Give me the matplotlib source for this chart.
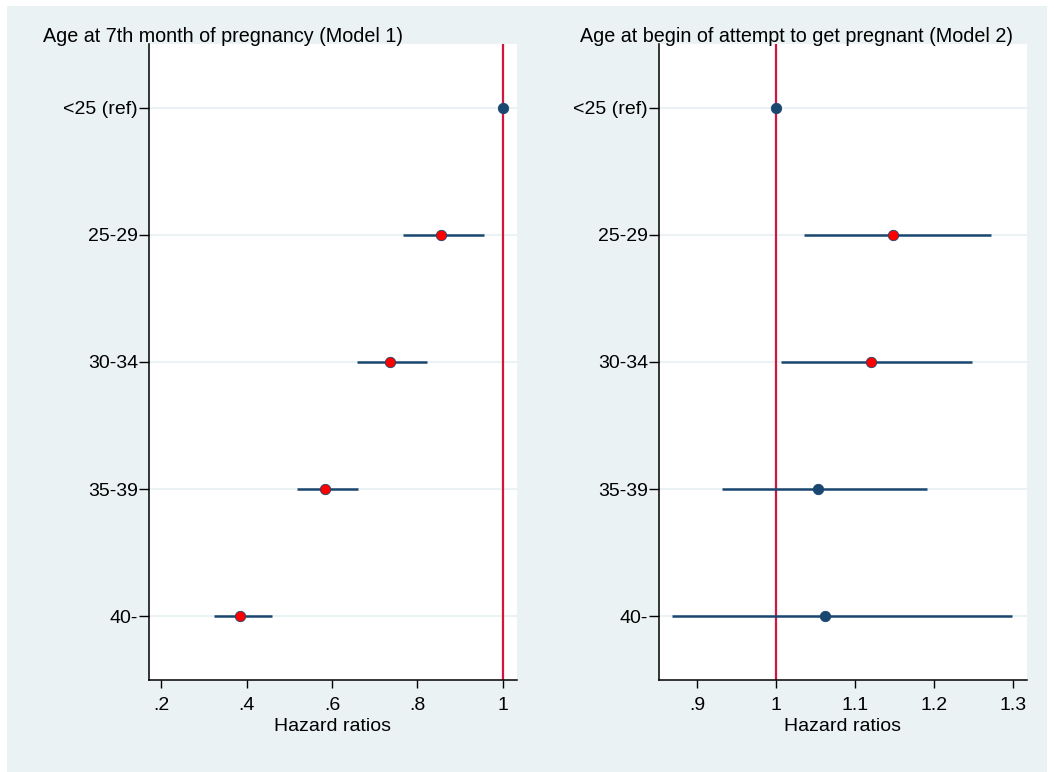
import matplotlib.pyplot as plt
from matplotlib.patches import Rectangle

plt.rcParams['font.family'] = ['Liberation Sans', 'DejaVu Sans']

# Age groups, top to bottom
groups = ["<25 (ref)", "25-29", "30-34", "35-39", "40-"]

# Model 1: age at 7th month of pregnancy
hr1 = [1.0, 0.856, 0.737, 0.584, 0.384]
lo1 = [1.0, 0.767, 0.659, 0.518, 0.324]
hi1 = [1.0, 0.956, 0.823, 0.662, 0.459]
sig1 = [False, True, True, True, True]

# Model 2: age at begin of attempt to get pregnant
hr2 = [1.0, 1.148, 1.120, 1.053, 1.062]
lo2 = [1.0, 1.035, 1.006, 0.932, 0.868]
hi2 = [1.0, 1.273, 1.248, 1.191, 1.299]
sig2 = [False, True, True, False, False]

ticks1 = [0.2, 0.4, 0.6, 0.8, 1.0]
ticklab1 = [".2", ".4", ".6", ".8", "1"]
ticks2 = [0.9, 1.0, 1.1, 1.2, 1.3]
ticklab2 = [".9", "1", "1.1", "1.2", "1.3"]

NAVY = "#1a476f"
RED = "#ff0000"
REFLINE = "#d0163e"
BG = "#eaf2f3"
FS = 14

W, H = 1054, 772
fig = plt.figure(figsize=(W / 100, H / 100), dpi=100)
fig.patches.append(Rectangle((7 / W, 0), (W - 14) / W, (H - 6) / H,
                             transform=fig.transFigure, facecolor=BG,
                             edgecolor="none", zorder=-1))


def panel(left_px, title, title_x, hr, lo, hi, sig, xlim, ticks, ticklab):
    ax = fig.add_axes([left_px / W, (H - 680) / H, 368 / W, 636 / H])
    ax.set_facecolor("white")
    y = list(range(1, len(groups) + 1))
    for yi in y:
        ax.axhline(yi, color=BG, lw=1.5, zorder=1)
    ax.axvline(1.0, color=REFLINE, lw=1.6, zorder=2)
    for yi, h, l, u, s in zip(y, hr, lo, hi, sig):
        ax.plot([l, u], [yi, yi], color=NAVY, lw=1.8, zorder=3, solid_capstyle="butt")
        ax.plot(h, yi, "o", ms=7.5, mfc=RED if s else NAVY, mec=NAVY, mew=0.6, zorder=4)
    ax.set_ylim(5.5, 0.5)
    ax.set_xlim(*xlim)
    ax.set_yticks(y)
    ax.set_yticklabels(groups, fontsize=FS)
    ax.set_xticks(ticks)
    ax.set_xticklabels(ticklab, fontsize=FS)
    ax.set_xlabel("Hazard ratios", fontsize=FS, labelpad=3)
    ax.tick_params(axis="y", length=7, width=1, pad=1)
    ax.tick_params(axis="x", length=6, width=1, pad=6)
    for s in ["top", "right"]:
        ax.spines[s].set_visible(False)
    for s in ["left", "bottom"]:
        ax.spines[s].set_linewidth(1.1)
    fig.text(title_x / W, (H - 36) / H, title, fontsize=14.2, ha="left", va="center")
    return ax


panel(149, "Age at 7th month of pregnancy (Model 1)", 43,
      hr1, lo1, hi1, sig1, (0.171, 1.034), ticks1, ticklab1)
panel(659, "Age at begin of attempt to get pregnant (Model 2)", 580,
      hr2, lo2, hi2, sig2, (0.852, 1.318), ticks2, ticklab2)

fig.savefig("out.png", dpi=100)
